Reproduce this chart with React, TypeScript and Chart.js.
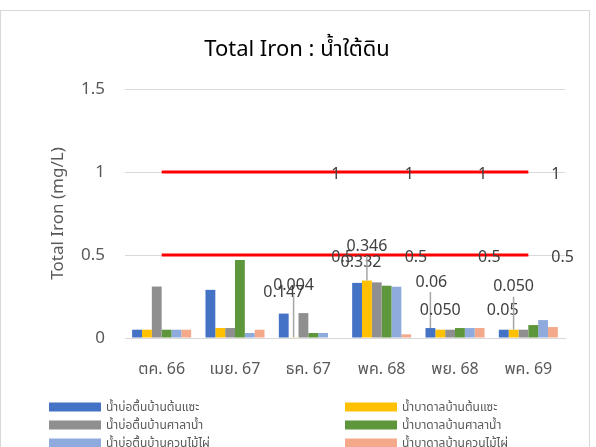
import React, { useEffect, useRef } from "react";
import { Chart, registerables } from "chart.js";

Chart.register(...registerables);

const categories = ["ตค. 66", "เมย. 67", "ธค. 67", "พค. 68", "พย. 68", "พค. 69"];
const seriesNames = [
  "น้ำบ่อตื้นบ้านต้นแซะ",
  "น้ำบาดาลบ้านต้นแซะ",
  "น้ำบ่อตื้นบ้านศาลาน้ำ",
  "น้ำบาดาลบ้านศาลาน้ำ",
  "น้ำบ่อตื้นบ้านควนไม้ไผ่",
  "น้ำบาดาลบ้านควนไม้ไผ่",
];
const shallowTonSae = [0.05, 0.29, 0.147, 0.332, 0.06, 0.05];
const groundTonSae = [0.05, 0.06, 0.004, 0.346, 0.05, 0.05];
const shallowSala = [0.31, 0.06, 0.15, 0.335, 0.05, 0.05];
const groundSala = [0.05, 0.47, 0.03, 0.315, 0.06, 0.078];
const shallowKhuan = [0.05, 0.03, 0.03, 0.309, 0.06, 0.108];
const groundKhuan = [0.05, 0.05, 0, 0.022, 0.06, 0.066];
const limitHigh = [1, 1, 1, 1, 1, 1];
const limitLow = [0.5, 0.5, 0.5, 0.5, 0.5, 0.5];
const yTicks = [0, 0.5, 1, 1.5];

// data labels: [datasetIndex, categoryIndex, text]
const barLabels: [number, number, string][] = [
  [0, 2, "0.147"],
  [1, 2, "0.004"],
  [0, 3, "0.332"],
  [1, 3, "0.346"],
  [0, 4, "0.06"],
  [1, 4, "0.050"],
  [0, 5, "0.05"],
  [1, 5, "0.050"],
];
const lineLabelIndices = [2, 3, 4, 5];

const colors = ["#4472C4", "#FFC000", "#8F8F8F", "#5E973B", "#8FAADC", "#F4A98A"];
// label offsets (style): dx, dy from bar top, leader line
const labelStyle: { dx: number; dy: number; leader: boolean }[] = [
  { dx: 0, dy: -21, leader: false },
  { dx: 0, dy: -52, leader: true },
  { dx: 4, dy: -20, leader: false },
  { dx: 0, dy: -34, leader: true },
  { dx: 1, dy: -46, leader: true },
  { dx: 0, dy: -19, leader: false },
  { dx: -1, dy: -19, leader: false },
  { dx: 0, dy: -43, leader: true },
];

const FONT = "'Noto Sans', 'Noto Sans Thai', 'DejaVu Sans', sans-serif";

const customPlugin = {
  id: "custom",
  afterDatasetsDraw(chart: any) {
    const ctx = chart.ctx;
    ctx.save();
    // title
    ctx.fillStyle = "#000000";
    ctx.font = `22px ${FONT}`;
    ctx.textAlign = "center";
    ctx.textBaseline = "middle";
    ctx.fillText("Total Iron : น้ำใต้ดิน", 296, 39);

    // line labels
    ctx.fillStyle = "#404040";
    ctx.font = `16px ${FONT}`;
    ctx.textAlign = "left";
    [6, 7].forEach((di) => {
      const meta = chart.getDatasetMeta(di);
      lineLabelIndices.forEach((i) => {
        const p = meta.data[i];
        const v = chart.data.datasets[di].data[i];
        ctx.fillText(String(v), p.x + 23, p.y + 2);
      });
    });

    // bar labels
    ctx.font = `16px ${FONT}`;
    ctx.textAlign = "center";
    barLabels.forEach(([di, ci, text], k) => {
      const el = chart.getDatasetMeta(di).data[ci];
      const st = labelStyle[k];
      const lx = el.x + st.dx;
      const ly = el.y + st.dy;
      if (st.leader) {
        ctx.strokeStyle = "#A6A6A6";
        ctx.lineWidth = 1.5;
        ctx.beginPath();
        ctx.moveTo(el.x, el.y);
        ctx.lineTo(el.x, ly + 10);
        ctx.stroke();
      }
      ctx.fillStyle = "#404040";
      ctx.fillText(text, lx, ly);
    });

    // legend (two columns)
    ctx.font = `12px ${FONT}`;
    ctx.textAlign = "left";
    seriesNames.forEach((name, i) => {
      const col = i % 2;
      const row = Math.floor(i / 2);
      const bx = col === 0 ? 48 : 344;
      const by = 396 + row * 18;
      ctx.fillStyle = colors[i];
      ctx.fillRect(bx, by - 4.5, 52, 9);
      ctx.fillStyle = "#595959";
      ctx.fillText(name, bx + 57, by + 1);
    });
    ctx.restore();
  },
};

export default function App() {
  const ref = useRef<HTMLCanvasElement>(null);
  useEffect(() => {
    if (!ref.current) return;
    const barData = [shallowTonSae, groundTonSae, shallowSala, groundSala, shallowKhuan, groundKhuan];
    const datasets: any[] = barData.map((d, i) => ({
      type: "bar",
      label: seriesNames[i],
      data: d,
      backgroundColor: colors[i],
      borderWidth: 0,
      categoryPercentage: 0.805,
      barPercentage: 1,
      order: 2,
    }));
    datasets.push({
      type: "line",
      label: "1",
      data: limitHigh,
      borderColor: "#FF0000",
      borderWidth: 3,
      pointRadius: 0,
      order: 1,
    });
    datasets.push({
      type: "line",
      label: "0.5",
      data: limitLow,
      borderColor: "#FF0000",
      borderWidth: 3,
      pointRadius: 0,
      order: 1,
    });
    const chart = new Chart(ref.current, {
      type: "bar",
      data: { labels: categories, datasets },
      options: {
        animation: false,
        responsive: false,
        maintainAspectRatio: false,
        layout: { padding: { top: 78, left: 0, right: 24, bottom: 90 } },
        plugins: {
          legend: { display: false },
          title: { display: false },
          tooltip: { enabled: false },
        },
        scales: {
          x: {
            grid: { display: false, drawTicks: false },
            border: { display: true, color: "#D9D9D9", width: 1 },
            ticks: { color: "#595959", font: { family: FONT, size: 16 }, padding: 22 },
            afterFit: (s: any) => {
              s.height = 40;
            },
          },
          y: {
            min: 0,
            max: 1.5,
            afterBuildTicks: (s: any) => {
              s.ticks = yTicks.map((v) => ({ value: v }));
            },
            grid: { color: "#D9D9D9", lineWidth: 1, drawTicks: false },
            border: { display: false },
            ticks: {
              color: "#595959",
              font: { family: FONT, size: 17 },
              padding: 20,
              callback: (v: any) => String(v),
            },
            title: {
              display: true,
              text: "Total Iron (mg/L)",
              color: "#595959",
              font: { family: FONT, size: 17 },
              padding: { top: 47, bottom: 0 },
            },
            afterFit: (s: any) => {
              s.width = 124;
            },
          },
        },
      },
      plugins: [customPlugin],
    });
    return () => chart.destroy();
  }, []);
  return (
    <div
      style={{
        position: "fixed",
        left: 0,
        top: 10,
        width: 596,
        height: 437,
        overflow: "hidden",
        background: "#fff",
      }}
    >
      <div
        style={{
          width: 588,
          height: 457,
          border: "1px solid #D9D9D9",
          background: "#fff",
        }}
      >
        <canvas ref={ref} width={588} height={457} style={{ display: "block", width: 588, height: 457 }} />
      </div>
    </div>
  );
}
